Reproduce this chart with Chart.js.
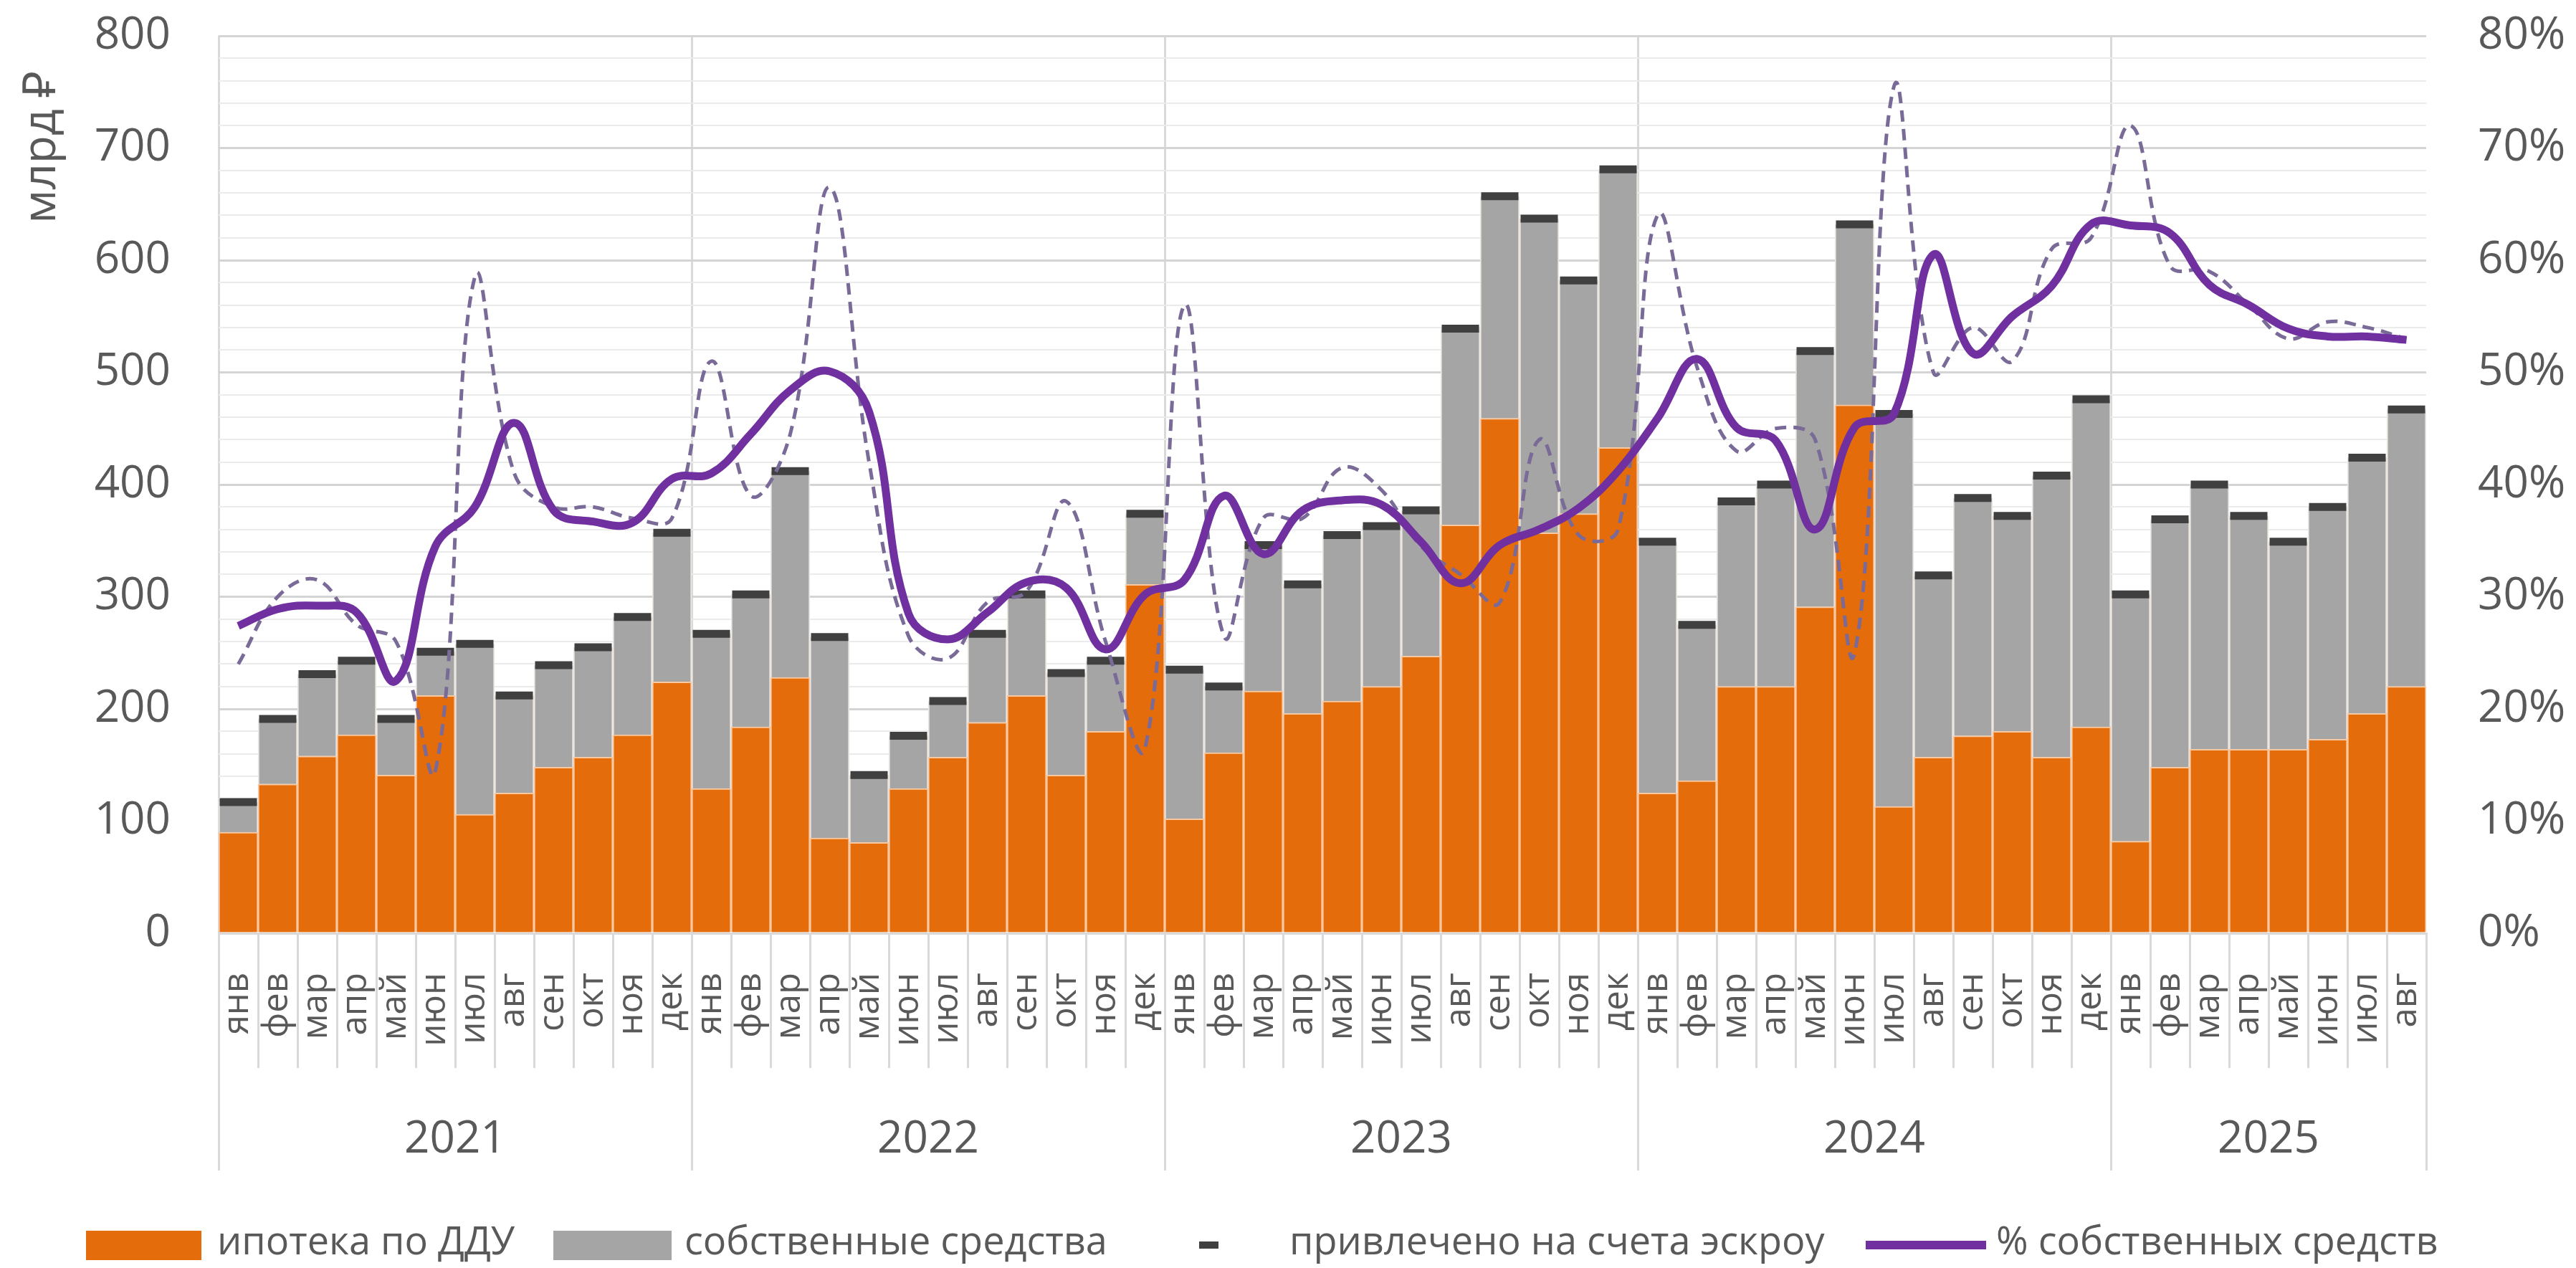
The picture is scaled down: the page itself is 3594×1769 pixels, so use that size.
<!DOCTYPE html>
<html>
<head>
<meta charset="utf-8">
<script src="https://cdn.jsdelivr.net/npm/chart.js@4.4.1/dist/chart.umd.min.js"></script>
<style>
  html, body { margin: 0; padding: 0; background: #fff; }
  #wrap { position: relative; width: 3594px; height: 1769px; font-family: 'Open Sans', sans-serif; }
  #chart { position: absolute; left: 0; top: 0; }
  .lg { position: absolute; top: 1702px; color: #595959; font-size: 54px; line-height: 1; white-space: nowrap; }
  .sw { position: absolute; }
</style>
</head>
<body>
<div id="wrap">
  <canvas id="chart" width="3594" height="1769"></canvas>
  <div class="sw" style="left:120px;top:1717px;width:161px;height:41px;background:#e46c0a;"></div>
  <div class="lg" style="left:303px;">ипотека по ДДУ</div>
  <div class="sw" style="left:772px;top:1717px;width:165px;height:41px;background:#a5a5a5;"></div>
  <div class="lg" style="left:955px;">собственные средства</div>
  <div class="sw" style="left:1673px;top:1732px;width:27px;height:10px;background:#404040;"></div>
  <div class="lg" style="left:1799px;">привлечено на счета эскроу</div>
  <div class="sw" style="left:2603px;top:1731px;width:168px;height:12px;background:#7030a0;"></div>
  <div class="lg" style="left:2785px;">% собственных средств</div>
</div>
<script>
// Categories
const years = ['2021', '2022', '2023', '2024', '2025'];
const monthsPerYear = [12, 12, 12, 12, 8];
const monthNames = ['янв', 'фев', 'мар', 'апр', 'май', 'июн', 'июл', 'авг', 'сен', 'окт', 'ноя', 'дек'];

// ипотека по ДДУ, млрд руб
const mortgage = [
    90, 133, 158, 177, 141, 212, 106, 125, 148, 157, 177, 224,
    129, 184, 228, 85, 81, 129, 157, 188, 212, 141, 180, 311,
    102, 161, 216, 196, 207, 220, 247, 364, 459, 357, 374, 433,
    125, 136, 220, 220, 291, 471, 113, 157, 176, 180, 157, 184,
    82, 148, 164, 164, 164, 173, 196, 220
];

// собственные средства, млрд руб
const ownFunds = [
    27, 58, 73, 66, 50, 39, 152, 87, 91, 98, 105, 133,
    138, 118, 184, 179, 60, 47, 50, 79, 90, 91, 63, 63,
    133, 59, 130, 115, 148, 143, 130, 175, 198, 280, 208, 248,
    224, 139, 165, 180, 228, 161, 350, 162, 212, 192, 251, 292,
    220, 221, 236, 208, 185, 207, 228, 247
];

// привлечено на счета эскроу, млрд руб
const escrow = [
    117, 191, 231, 243, 191, 251, 258, 212, 239, 255, 282, 357,
    267, 302, 412, 264, 141, 176, 207, 267, 302, 232, 243, 374,
    235, 220, 346, 311, 355, 363, 377, 539, 657, 637, 582, 681,
    349, 275, 385, 400, 519, 632, 463, 319, 388, 372, 408, 476,
    302, 369, 400, 372, 349, 380, 424, 467
];

// % собственных средств (сглаженная линия)
const ownShareSmooth = [
    27.4, 28.9, 29.2, 28.6, 22.5, 34.5, 38, 45.5, 37.7, 36.7, 36.6, 40.5,
    41, 44.5, 48.4, 50.1, 46.5, 28.5, 26.2, 28.6, 31.3, 30.8, 25.3, 30.2,
    31.5, 39, 33.8, 37.7, 38.6, 38.2, 34.9, 31.2, 34.6, 36, 37.9, 41.2,
    45.9, 51.2, 45.1, 43.9, 36, 45.1, 46.3, 60.5, 51.7, 55, 57.7, 63.2,
    63.1, 62.4, 57.8, 56, 53.9, 53.2, 53.2, 52.9
];

// % собственных средств по месяцам (пунктир)
const ownShareMonthly = [
    24, 30, 31.5, 27.5, 26, 14.5, 58.5, 41, 38, 38, 37, 37,
    51, 39, 44.5, 66.5, 42, 26.5, 24.5, 29.5, 30.5, 38.5, 26, 16.5,
    56, 26.5, 37, 37, 41.5, 39.5, 34.5, 32, 29.5, 44, 35.5, 36,
    64, 50.5, 43, 45, 44, 25, 75.5, 50, 54, 51, 61, 62,
    72, 59.5, 59, 56, 53, 54.5, 54, 53
];

// Month labels for the category axis
const labels = [];
monthsPerYear.forEach(function(n) {
    for (let i = 0; i < n; i++) labels.push(monthNames[i]);
});

// Year boundaries and centres for the second x axis
const yearBounds = [-0.5];
const yearCenters = [];
monthsPerYear.forEach(function(n) {
    const start = yearBounds[yearBounds.length - 1];
    yearCenters.push(start + n / 2);
    yearBounds.push(start + n);
});
const lastBound = yearBounds[yearBounds.length - 1];

const textColor = '#595959';
const font = 'Open Sans';

// keep the tick padding from pushing the plot area down
function fixVerticalPadding(scale, width) {
    scale.width = width;
    scale.paddingTop = 30;
    scale.paddingBottom = 30;
}

const ctx = document.getElementById('chart').getContext('2d');
new Chart(ctx, {
    data: {
        labels: labels,
        datasets: [
            {
                type: 'line',
                label: '% собственных средств',
                data: ownShareSmooth,
                yAxisID: 'y1',
                borderColor: '#7030a0',
                borderWidth: 11,
                pointRadius: 0,
                tension: 0.4,
                fill: false,
                order: 0
            },
            {
                type: 'line',
                label: '% собственных средств (мес.)',
                data: ownShareMonthly,
                yAxisID: 'y1',
                borderColor: '#7a6a98',
                borderWidth: 5,
                borderDash: [16, 10],
                pointRadius: 0,
                tension: 0.4,
                fill: false,
                order: 1
            },
            {
                type: 'line',
                label: 'привлечено на счета эскроу',
                data: escrow,
                yAxisID: 'y',
                stack: 'escrow',
                showLine: false,
                pointStyle: 'line',
                pointRadius: 26,
                pointHoverRadius: 26,
                pointBorderWidth: 11,
                pointBorderColor: '#404040',
                order: 2
            },
            {
                type: 'bar',
                label: 'ипотека по ДДУ',
                data: mortgage,
                yAxisID: 'y',
                stack: 'funds',
                backgroundColor: '#e46c0a',
                borderColor: '#f8c8a0',
                borderWidth: 2,
                categoryPercentage: 1,
                barPercentage: 1,
                order: 3
            },
            {
                type: 'bar',
                label: 'собственные средства',
                data: ownFunds,
                yAxisID: 'y',
                stack: 'funds',
                backgroundColor: '#a5a5a5',
                borderColor: '#ece6e1',
                borderWidth: 2,
                categoryPercentage: 1,
                barPercentage: 1,
                order: 3
            }
        ]
    },
    options: {
        responsive: false,
        animation: false,
        layout: {
            padding: { top: 50, left: 0, right: 0, bottom: 136 }
        },
        plugins: {
            legend: { display: false },
            tooltip: { enabled: false }
        },
        scales: {
            x: {
                type: 'category',
                stacked: true,
                weight: 0,
                afterFit: function(scale) { scale.height = 188; },
                grid: {
                    offset: true,
                    drawOnChartArea: false,
                    drawTicks: true,
                    tickLength: 188,
                    tickColor: '#d9d9d9',
                    lineWidth: 3
                },
                border: { display: true, color: '#d9d9d9', width: 3 },
                ticks: {
                    autoSkip: false,
                    minRotation: 90,
                    maxRotation: 90,
                    padding: -133,
                    color: textColor,
                    font: { family: font, size: 49 }
                }
            },
            x2: {
                type: 'linear',
                position: 'bottom',
                weight: 1,
                min: -0.5,
                max: lastBound,
                afterFit: function(scale) { scale.height = 143; },
                afterBuildTicks: function(scale) {
                    scale.ticks = yearBounds.concat(yearCenters)
                        .sort(function(a, b) { return a - b; })
                        .map(function(v) { return { value: v }; });
                },
                grid: {
                    drawOnChartArea: true,
                    drawTicks: true,
                    tickLength: 143,
                    lineWidth: 3,
                    color: function(c) {
                        const v = c.tick ? c.tick.value : null;
                        return (yearBounds.indexOf(v) >= 0 && v !== lastBound) ? '#d9d9d9' : 'rgba(0,0,0,0)';
                    },
                    tickColor: function(c) {
                        const v = c.tick ? c.tick.value : null;
                        return yearBounds.indexOf(v) >= 0 ? '#d9d9d9' : 'rgba(0,0,0,0)';
                    }
                },
                border: { display: false },
                ticks: {
                    autoSkip: false,
                    maxRotation: 0,
                    padding: -80,
                    color: textColor,
                    font: { family: font, size: 62 },
                    callback: function(value) {
                        const i = yearCenters.indexOf(value);
                        return i >= 0 ? years[i] : '';
                    }
                }
            },
            y: {
                type: 'linear',
                position: 'left',
                stacked: true,
                min: 0,
                max: 800,
                afterFit: function(scale) { fixVerticalPadding(scale, 305); },
                title: {
                    display: true,
                    text: 'млрд ₽\u2002 ',
                    align: 'end',
                    color: textColor,
                    font: { family: font, size: 64 },
                    padding: { top: 20, bottom: 0 }
                },
                grid: {
                    drawTicks: false,
                    color: function(c) {
                        return c.tick && c.tick.value % 100 === 0 ? '#d4d4d4' : '#ebebeb';
                    },
                    lineWidth: function(c) {
                        return c.tick && c.tick.value % 100 === 0 ? 3 : 2;
                    }
                },
                border: { display: false },
                ticks: {
                    stepSize: 20,
                    autoSkip: false,
                    padding: 67,
                    color: textColor,
                    font: { family: font, size: 62 },
                    callback: function(value) {
                        return value % 100 === 0 ? value : '';
                    }
                }
            },
            y1: {
                type: 'linear',
                position: 'right',
                min: 0,
                max: 80,
                afterFit: function(scale) { fixVerticalPadding(scale, 209); },
                grid: { drawOnChartArea: false, drawTicks: false },
                border: { display: false },
                ticks: {
                    stepSize: 10,
                    autoSkip: false,
                    padding: 72,
                    color: textColor,
                    font: { family: font, size: 62 },
                    callback: function(value) { return value + '%'; }
                }
            }
        }
    }
});
</script>
</body>
</html>
